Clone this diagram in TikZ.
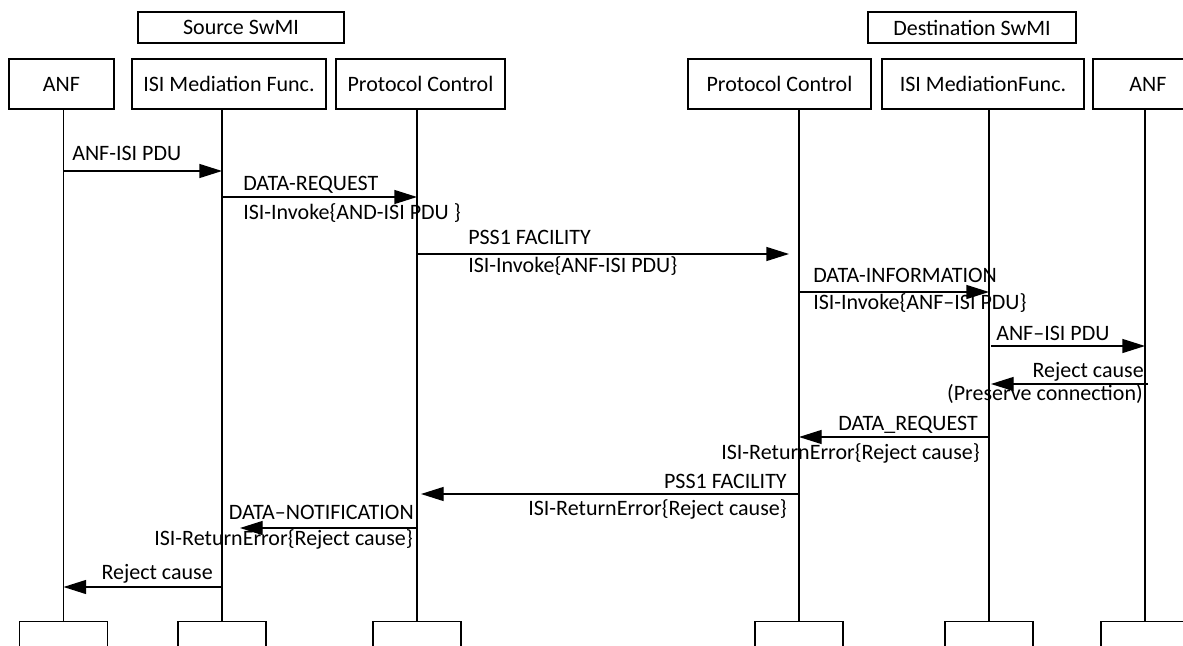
\documentclass[tikz,border=0pt]{standalone}
\usepackage{fontspec}
\setmainfont{Carlito}
\usetikzlibrary{arrows.meta,calc}
\begin{document}
\begin{tikzpicture}[x=0.75pt,y=-0.75pt,
  every node/.style={font=\fontsize{16.5}{20}\selectfont, inner sep=0pt},
  hbox/.style={draw, line width=1pt, minimum height=37.5pt},
  gbox/.style={draw, line width=1pt, minimum height=23.25pt},
  bbox/.style={draw, line width=1pt, minimum width=66pt, minimum height=30pt, anchor=north},
  life/.style={line width=1pt},
  msg/.style={line width=1pt, -{Triangle[length=17pt,width=10.5pt]}},
  lw/.style={anchor=base west},
  le/.style={anchor=base east}]
\clip (0,0) rectangle (1183,646);
\fill[white] (0,0) rectangle (1183,646);
% group boxes
\node[gbox, minimum width=154.5pt] (src) at (241,27.5) {Source SwMI};
\node[gbox, minimum width=156pt] (dst) at (972,27.5) {Destination SwMI};
% header boxes
\node[hbox, minimum width=78.75pt] (h1) at (61.5,84) {ANF};
\node[hbox, minimum width=145.5pt] (h2) at (229,84) {ISI Mediation Func.};
\node[hbox, minimum width=126.75pt] (h3) at (420.5,84) {Protocol Control};
\node[hbox, minimum width=137.25pt] (h4) at (779.5,84) {Protocol Control};
\node[hbox, minimum width=151.5pt] (h5) at (983,84) {ISI MediationFunc.};
\node[hbox, minimum width=82.5pt] (h6) at (1148,84) {ANF};
% bottom boxes
\node[bbox] (b1) at (63.5,621) {};
\node[bbox] (b2) at (222,621) {};
\node[bbox] (b3) at (417,621) {};
\node[bbox] (b4) at (799,621) {};
\node[bbox] (b5) at (989,621) {};
\node[bbox] (b6) at (1145,621) {};
% lifelines
\foreach \i in {1,...,6} {\draw[life] (b\i.north |- h\i.south) -- (b\i.north);}
% messages
\draw[msg] (b1.north |- 0,171) -- (b2.north |- 0,171);
\node[lw] (m1) at (72,160) {ANF-ISI PDU};

\draw[msg] (b2.north |- 0,197) -- (b3.north |- 0,197);
\node[lw] (m2a) at (243,190) {DATA-REQUEST};
\node[lw] (m2b) at (243,219) {ISI-Invoke\{AND-ISI PDU \}};

\draw[msg] (b3.north |- 0,254) -- ($(b4.north |- 0,254)+(-10,0)$);
\node[lw] (m3a) at (468,244) {PSS1 FACILITY};
\node[lw] (m3b) at (468,272) {ISI-Invoke\{ANF-ISI PDU\}};

\draw[msg] (b4.north |- 0,292) -- (b5.north |- 0,292);
\node[lw] (m4a) at (813,282) {DATA-INFORMATION};
\node[lw] (m4b) at (813,309) {ISI-Invoke\{ANF–ISI PDU\}};

\draw[msg] ($(b5.north |- 0,346)+(2,0)$) -- (b6.north |- 0,346);
\node[lw] (m5) at (996,340) {ANF–ISI PDU};

\draw[msg] ($(b6.north |- 0,384)+(3,0)$) -- ($(b5.north |- 0,384)+(2,0)$);
\node[le] (m6a) at (1144,377) {Reject cause};
\node[le] (m6b) at (1143,400) {(Preserve connection)};

\draw[msg] (b5.north |- 0,437) -- (b4.north |- 0,437);
\node[le] (m7a) at (978,430) {DATA\_REQUEST};
\node[le] (m7b) at (980,459) {ISI-ReturnError\{Reject cause\}};

\draw[msg] (b4.north |- 0,494) -- ($(b3.north |- 0,494)+(4,0)$);
\node[le] (m8a) at (787,488) {PSS1 FACILITY};
\node[le] (m8b) at (787,515) {ISI-ReturnError\{Reject cause\}};

\draw[msg] (b3.north |- 0,528) -- ($(b2.north |- 0,528)+(18,0)$);
\node[le] (m9a) at (414,519) {DATA–NOTIFICATION};
\node[le] (m9b) at (413,545) {ISI-ReturnError\{Reject cause\}};

\draw[msg] (b2.north |- 0,587) -- (b1.north |- 0,587);
\node[le] (m10) at (213,579) {Reject cause};
\end{tikzpicture}
\end{document}
